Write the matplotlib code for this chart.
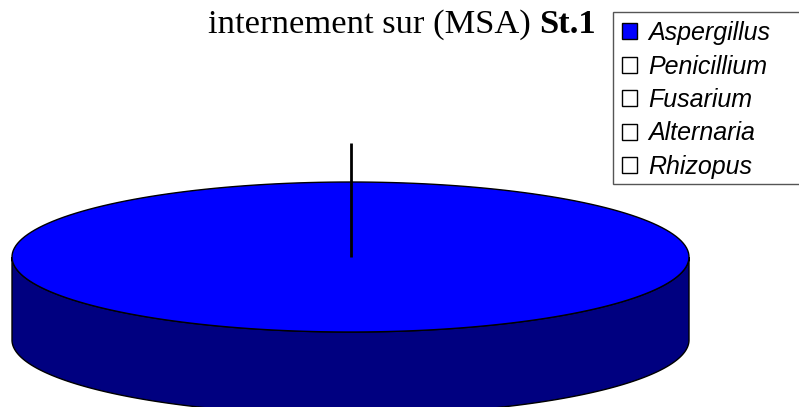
import matplotlib
matplotlib.use("Agg")
import matplotlib.pyplot as plt
import numpy as np
from matplotlib.patches import Patch, Polygon, Rectangle

# data
genera = ["Aspergillus", "Penicillium", "Fusarium", "Alternaria", "Rhizopus"]
shares = [100, 0, 0, 0, 0]
top_colors = ["#0000FF", "#FFFFFF", "#FFFFFF", "#FFFFFF", "#FFFFFF"]
side_colors = ["#000080", "#808080", "#808080", "#808080", "#808080"]

W, H = 799, 407
CX, CY = 350.5, 257.0      # centre of the top face, pixels
RX, RY = 338.5, 75.0       # ellipse radii
DEPTH = 83.0


def arc(t0, t1, n=200, dy=0.0):
    t = np.linspace(t0, t1, n)
    return np.column_stack([CX + RX * np.cos(t), CY - RY * np.sin(t) + dy])


fig = plt.figure(figsize=(W / 100, H / 100), dpi=100)
ax = fig.add_axes([0, 0, 1, 1])
ax.set_xlim(0, W)
ax.set_ylim(H, 0)
ax.axis("off")

total = float(sum(shares))
start = np.pi / 2
edges = []
for share, top, side in zip(shares, top_colors, side_colors):
    if share <= 0:
        continue
    sweep = 2 * np.pi * share / total
    t0, t1 = start - sweep, start          # clockwise from 12 o'clock
    # visible side wall: front half of the rim
    lo, hi = max(t0, -np.pi), min(t1, 0.0)
    if lo < hi:
        rim = arc(lo, hi)
        wall = np.vstack([rim, arc(hi, lo, dy=DEPTH)])
        ax.add_patch(Polygon(wall, closed=True, facecolor=side, edgecolor="black", linewidth=1.0, zorder=2))
    if sweep >= 2 * np.pi - 1e-9:
        face = arc(t0, t1)
    else:
        face = np.vstack([[CX, CY], arc(t0, t1)])
    ax.add_patch(Polygon(face, closed=True, facecolor=top, edgecolor="black", linewidth=1.0, zorder=3))
    edges.append(start)
    start = t0

# slice boundary from the centre
for t in edges:
    ax.plot([CX, CX + 1.52 * RX * np.cos(t) * 0], [CY, CY - 1.52 * RY * np.sin(t)],
            color="black", linewidth=2, zorder=4, solid_capstyle="butt")

# title: normal part + bold "St.1"
t1 = fig.text(208 / W, 1 - 33 / H, "internement sur (MSA) ", family="Liberation Serif",
              fontsize=24.8, ha="left", va="baseline")
fig.canvas.draw()
bb = t1.get_window_extent()
fig.text(bb.x1 / W, 1 - 33 / H, "St.1", family="Liberation Serif", fontweight="bold",
         fontsize=24.8, ha="left", va="baseline")

# legend box runs off the right edge of the picture
ax.add_patch(Rectangle((613, 12), 200, 172, facecolor="white", edgecolor="#555555",
                       linewidth=1.0, zorder=5, clip_on=False))
handles = [Patch(facecolor=c, edgecolor="black", linewidth=1) for c in top_colors]
leg = fig.legend(handles, genera, loc="upper left", bbox_to_anchor=(613 / W, 1 - 12 / H),
                 borderaxespad=0, frameon=False,
                 prop={"family": "Liberation Sans", "style": "italic", "size": 18},
                 handlelength=0.6, handleheight=0.6, handletextpad=0.45,
                 labelspacing=0.38, borderpad=0.36)
leg.set_zorder(6)

fig.savefig("out.png", dpi=100)
